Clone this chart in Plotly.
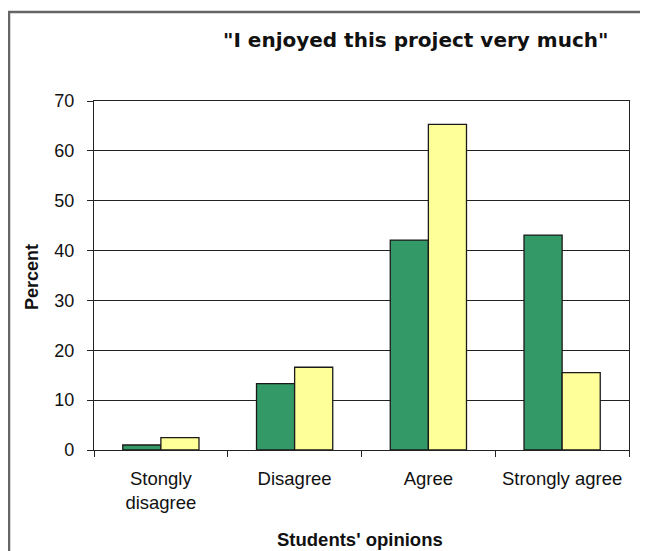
import plotly.graph_objects as go

categories = ["Stongly<br>disagree", "Disagree", "Agree", "Strongly agree"]
series_a = [1.0, 13.3, 42.1, 43.1]
series_b = [2.5, 16.6, 65.3, 15.5]
y_ticks = [0, 10, 20, 30, 40, 50, 60, 70]

OFF = 8  # page body margin
W, H = 648 - OFF, 551 - OFF
L, R, T, B = 94 - OFF, 629 - OFF, 101 - OFF, 450 - OFF

def px(x):
    return (x - OFF - L) / (R - L)

def py(y):
    return (B - (y - OFF)) / (B - T)

fig = go.Figure()
fig.add_bar(x=categories, y=series_a, name="A", marker=dict(color="#339966", line=dict(color="#1a1a1a", width=1.3)))
fig.add_bar(x=categories, y=series_b, name="B", marker=dict(color="#FFFF99", line=dict(color="#1a1a1a", width=1.3)))

font = "Liberation Sans, Arial, sans-serif"
tfont = "DejaVu Sans, Verdana, sans-serif"
fig.update_layout(
    width=W, height=H,
    margin=dict(l=L, r=W - R, t=T, b=H - B, pad=0),
    paper_bgcolor="white", plot_bgcolor="white",
    barmode="group", bargap=0.43, bargroupgap=0,
    showlegend=False,
    font=dict(family=font, size=18, color="#111"),
)
fig.update_xaxes(
    showline=True, linecolor="#222", linewidth=1.3, mirror=True,
    ticks="outside", tickson="boundaries", ticklen=6, tickcolor="#222", tickwidth=1.3,
    ticklabelstandoff=12,
    tickfont=dict(size=18.5, family=font, color="#111"), showgrid=False,
)
fig.update_yaxes(
    range=[0, 70], tickvals=y_ticks, showline=True, linecolor="#222", linewidth=1.3, mirror=True,
    ticks="outside", ticklen=6, tickcolor="#222", tickwidth=1.3, ticklabelstandoff=9,
    showgrid=True, gridcolor="#222", gridwidth=1.3, zeroline=False,
    tickfont=dict(size=18, family=font, color="#111"),
)

annotations = [
    dict(text='<b>"I enjoyed this project very much"</b>', x=px(415), y=py(40), xref="paper", yref="paper",
         showarrow=False, font=dict(size=20, family=tfont, color="#111"), xanchor="center", yanchor="middle"),
    dict(text="<b>Percent</b>", x=px(32), y=py(277), xref="paper", yref="paper", textangle=-90,
         showarrow=False, font=dict(size=18, family=font, color="#111"), xanchor="center", yanchor="middle"),
    dict(text="<b>Students' opinions</b>", x=px(360), y=py(539), xref="paper", yref="paper",
         showarrow=False, font=dict(size=18.5, family=font, color="#111"), xanchor="center", yanchor="middle"),
]
fig.update_layout(annotations=annotations)

shapes = [
    dict(type="rect", xref="paper", yref="paper", x0=px(9), x1=px(700), y0=py(12), y1=py(600),
         line=dict(color="#666", width=2.5), fillcolor="rgba(0,0,0,0)", layer="below"),
    dict(type="rect", xref="paper", yref="paper", x0=px(646), x1=px(700), y0=py(245), y1=py(307),
         line=dict(color="#555", width=2), fillcolor="rgba(0,0,0,0)"),
]
fig.update_layout(shapes=shapes)

fig.write_html("out.html")
